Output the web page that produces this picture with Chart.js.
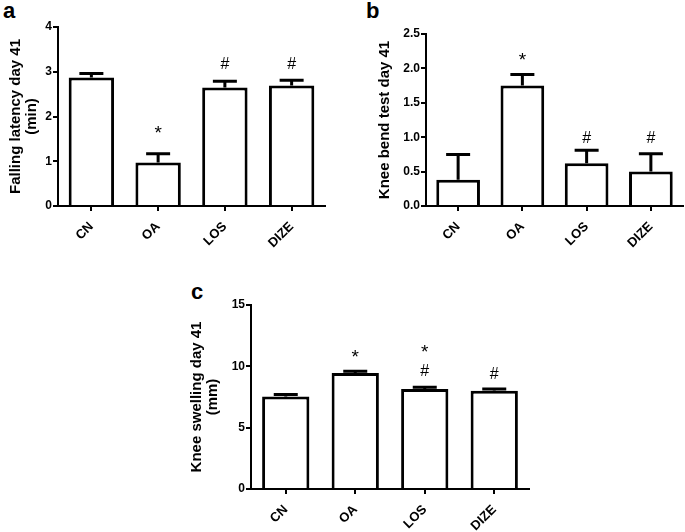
<!DOCTYPE html>
<html>
<head>
<meta charset="utf-8">
<script src="https://cdn.jsdelivr.net/npm/chart.js@4.4.0/dist/chart.umd.min.js"></script>
<style>
  html, body { margin: 0; padding: 0; background: #fff; }
  body { width: 685px; height: 532px; position: relative; overflow: hidden; font-family: "Liberation Sans", Arial, sans-serif; }
  canvas { position: absolute; }
  .letter { position: absolute; font-weight: bold; font-size: 22px; line-height: 1; color: #000; }
</style>
</head>
<body>
<div class="letter" style="left:3px;top:0px">a</div>
<div class="letter" style="left:366px;top:0px">b</div>
<div class="letter" style="left:191px;top:281px">c</div>
<canvas id="chartA" width="340" height="265" style="left:0;top:0"></canvas>
<canvas id="chartB" width="345" height="265" style="left:340px;top:0"></canvas>
<canvas id="chartC" width="362" height="262" style="left:170px;top:270px"></canvas>
<script>
// Grupper (samme i alle tre paneler)
const groups = ['CN', 'OA', 'LOS', 'DIZE'];

// a: Falling latency day 41 (min)
const latency = [2.87, 0.97, 2.65, 2.69];
const latencyErr = [0.09, 0.2, 0.14, 0.12];
const latencyStar = [null, 1.74, null, null];
const latencyHash = [null, null, 3.2, 3.2];
const latencyTicks = ['0', '1', '2', '3', '4'];

// b: Knee bend test day 41
const kneeBend = [0.38, 1.75, 0.62, 0.5];
const kneeBendErr = [0.37, 0.16, 0.19, 0.26];
const kneeBendStar = [null, 2.2, null, null];
const kneeBendHash = [null, null, 1.0, 1.0];
const kneeBendTicks = ['0.0', '0.5', '1.0', '1.5', '2.0', '2.5'];

// c: Knee swelling day 41 (mm)
const swelling = [7.55, 9.45, 8.15, 8.0];
const swellingErr = [0.15, 0.15, 0.15, 0.15];
const swellingStar = [null, 11.15, 11.6, null];
const swellingHash = [null, null, 9.7, 9.45];
const swellingTicks = ['0', '5', '10', '15'];

const FONT = '"Liberation Sans", Arial, sans-serif';

// Tegner fejlsøjler og signifikans-mærker (* og #)
const errorBarPlugin = {
    id: 'errorBars',
    afterDatasetsDraw(chart) {
        const ds = chart.data.datasets[0];
        const meta = chart.getDatasetMeta(0);
        const y = chart.scales.y;
        const ctx = chart.ctx;
        ctx.save();
        ctx.strokeStyle = '#000';
        ctx.lineWidth = 3;
        meta.data.forEach((bar, i) => {
            const base = y.getPixelForValue(ds.data[i]);
            const top = y.getPixelForValue(ds.data[i] + ds.errors[i]);
            ctx.beginPath();
            ctx.moveTo(bar.x, base);
            ctx.lineTo(bar.x, top);
            ctx.moveTo(bar.x - 12, top);
            ctx.lineTo(bar.x + 12, top);
            ctx.stroke();
        });
        ctx.fillStyle = '#000';
        ctx.textAlign = 'center';
        ctx.textBaseline = 'alphabetic';
        meta.data.forEach((bar, i) => {
            if (ds.stars[i] != null) {
                ctx.font = '19px ' + FONT;
                ctx.fillText('*', bar.x, y.getPixelForValue(ds.stars[i]) + 11);
            }
            if (ds.hashes[i] != null) {
                ctx.font = '16px ' + FONT;
                ctx.fillText('#', bar.x, y.getPixelForValue(ds.hashes[i]) + 6);
            }
        });
        ctx.restore();
    }
};

function makeChart(id, cfg) {
    const ctx = document.getElementById(id).getContext('2d');
    return new Chart(ctx, {
        type: 'bar',
        data: {
            labels: groups,
            datasets: [{
                data: cfg.values,
                errors: cfg.errors,
                stars: cfg.stars,
                hashes: cfg.hashes,
                backgroundColor: '#fff',
                borderColor: '#000',
                borderWidth: 3,
                barPercentage: 0.68,
                categoryPercentage: 1
            }]
        },
        options: {
            responsive: false,
            animation: false,
            layout: { padding: { top: cfg.padTop, right: cfg.padRight, left: 0, bottom: 0 } },
            plugins: { legend: { display: false }, tooltip: { enabled: false } },
            scales: {
                x: {
                    offset: true,
                    grid: { display: true, drawOnChartArea: false, drawTicks: true, tickLength: 5, color: '#000', lineWidth: 2, offset: false },
                    border: { display: true, color: '#000', width: 2 },
                    ticks: { color: '#000', font: { family: FONT, size: 13, weight: 'bold' }, minRotation: 45, maxRotation: 45, padding: 8 },
                    afterFit(scale) { scale.height = cfg.xHeight; }
                },
                y: {
                    min: 0,
                    max: parseFloat(cfg.ticks[cfg.ticks.length - 1]),
                    afterBuildTicks(scale) { scale.ticks = cfg.ticks.map(t => ({ value: parseFloat(t) })); },
                    grid: { display: true, drawOnChartArea: false, drawTicks: true, tickLength: 5, color: '#000', lineWidth: 2 },
                    border: { display: true, color: '#000', width: 2 },
                    ticks: { color: '#000', font: { family: FONT, size: 12, weight: 'bold' }, padding: 1, callback: (v, i) => cfg.ticks[i] },
                    title: {
                        display: true,
                        text: cfg.title,
                        color: '#000',
                        font: { family: FONT, size: 15, weight: 'bold', lineHeight: 1.12 },
                        padding: { top: cfg.titlePad, bottom: 0 }
                    },
                    afterFit(scale) { scale.width = cfg.yWidth; }
                }
            }
        },
        plugins: [errorBarPlugin]
    });
}

makeChart('chartA', {
    values: latency, errors: latencyErr, stars: latencyStar, hashes: latencyHash,
    ticks: latencyTicks, title: ['Falling latency day 41', '(min)'],
    yWidth: 58, xHeight: 59, padTop: 27, padRight: 15, titlePad: 7
});
makeChart('chartB', {
    values: kneeBend, errors: kneeBendErr, stars: kneeBendStar, hashes: kneeBendHash,
    ticks: kneeBendTicks, title: 'Knee bend test day 41',
    yWidth: 86, xHeight: 59, padTop: 34, padRight: 2, titlePad: 36
});
makeChart('chartC', {
    values: swelling, errors: swellingErr, stars: swellingStar, hashes: swellingHash,
    ticks: swellingTicks, title: ['Knee swelling day 41', '(mm)'],
    yWidth: 81, xHeight: 43, padTop: 35, padRight: 3, titlePad: 18
});
</script>
</body>
</html>
